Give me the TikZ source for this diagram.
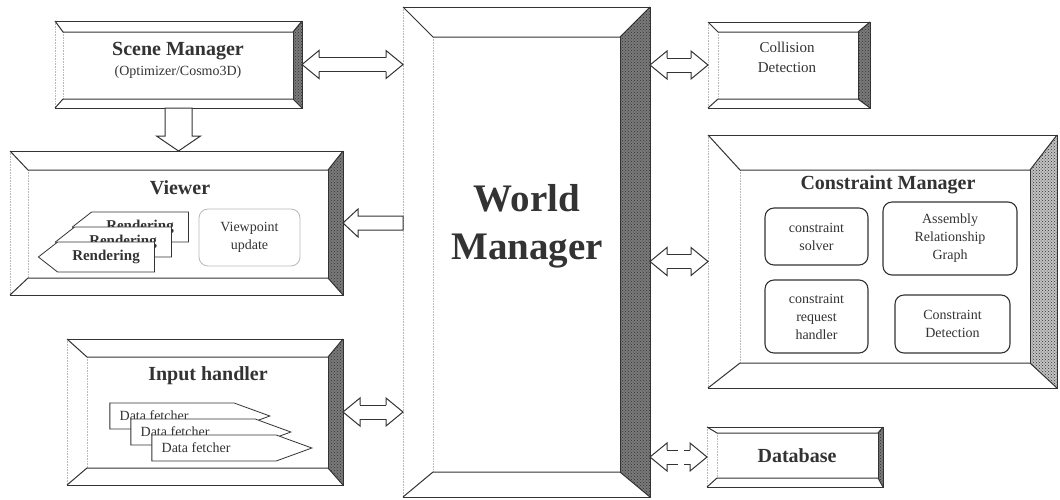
\documentclass[tikz,border=0pt]{standalone}
\usepackage{fontspec}
\setmainfont{Liberation Serif}
\usetikzlibrary{calc,shapes.symbols,patterns}

\definecolor{ink}{gray}{0.2}
\definecolor{rimdark}{gray}{0.48}
\definecolor{rimlight}{gray}{0.76}

\tikzset{
  frame/.style={inner sep=0pt, outer sep=0pt},
  rim/.style={draw=ink, line width=1pt},
  faint/.style={draw=gray!55, line width=0.6pt, densely dotted},
  title/.style={font=\fontsize{20}{24}\selectfont\bfseries, text=ink},
  small/.style={font=\fontsize{14}{18}\selectfont, text=ink, align=center},
  part/.style={draw=ink, line width=1.1pt, rounded corners=9pt, small, inner sep=2pt},
  render/.style={signal, signal to=west, signal pointer angle=76, draw=ink, fill=white,
    line width=0.8pt, minimum width=116pt, minimum height=30pt, inner sep=0pt,
    font=\fontsize{15}{18}\selectfont\bfseries, text=ink},
  fetcher/.style={signal, signal to=east, signal pointer angle=40, draw=ink, fill=white,
    line width=0.8pt, minimum width=160pt, minimum height=26pt, inner sep=0pt},
  hollow/.style={draw=ink, line width=1pt, line join=miter},
}

% bevelled frame inside an empty node: rim widths left, top, right, bottom
\newcommand\bevelbox[6][rimdark]{%
  \coordinate (#2-inw) at ($(#2.north west)+(#3,#4)$);
  \coordinate (#2-ise) at ($(#2.south east)+(-#5,-#6)$);
  \coordinate (#2-ine) at (#2-inw -| #2-ise);
  \coordinate (#2-isw) at (#2-inw |- #2-ise);
  \fill[white] (#2.north west) rectangle (#2.south east);
  \fill[#1] (#2.north east) -- (#2.south east) -- (#2-ise) -- (#2-ine) -- cycle;
  \fill[pattern=crosshatch dots, pattern color=black!80] (#2.north east) -- (#2.south east) -- (#2-ise) -- (#2-ine) -- cycle;
  \draw[faint] (#2.north west) -- (#2.south west) (#2-inw) -- (#2-isw);
  \draw[rim] (#2.south west) -- (#2.south east) -- (#2.north east) -- (#2.north west);
  \draw[rim] (#2.north west) -- (#2-inw) -- (#2-ine) -- (#2.north east);
  \draw[rim] (#2.south west) -- (#2-isw) -- (#2-ise) -- (#2.south east);
  \draw[rim] (#2-ine) -- (#2-ise);
}

% hollow block arrow with a head at both ends
\def\headlen{17pt}
\def\headhalf{14pt}
\def\shafthalf{7pt}
\newcommand\twoway[3][]{%
  \coordinate (ta) at (#2);
  \coordinate (tb) at (#3);
  \coordinate (ha) at ($(ta)!\headlen!(tb)$);
  \coordinate (hb) at ($(tb)!\headlen!(ta)$);
  \fill[white] (ta) -- ($(ha)!\headhalf!90:(ta)$) -- ($(hb)!\headhalf!-90:(tb)$) -- (tb)
    -- ($(hb)!\headhalf!90:(tb)$) -- ($(ha)!\headhalf!-90:(ta)$) -- cycle;
  \draw[hollow] ($(ha)!\shafthalf!90:(ta)$) -- ($(ha)!\headhalf!90:(ta)$) -- (ta)
    -- ($(ha)!\headhalf!-90:(ta)$) -- ($(ha)!\shafthalf!-90:(ta)$);
  \draw[hollow] ($(hb)!\shafthalf!90:(tb)$) -- ($(hb)!\headhalf!90:(tb)$) -- (tb)
    -- ($(hb)!\headhalf!-90:(tb)$) -- ($(hb)!\shafthalf!-90:(tb)$);
  \draw[hollow, #1] ($(ha)!\shafthalf!90:(ta)$) -- ($(hb)!\shafthalf!-90:(tb)$)
    ($(ha)!\shafthalf!-90:(ta)$) -- ($(hb)!\shafthalf!90:(tb)$);
}

% hollow block arrow: tail, tip, head length, head half width, shaft half width
\newcommand\oneway[5]{%
  \coordinate (ta) at (#1);
  \coordinate (tb) at (#2);
  \coordinate (hb) at ($(tb)!#3!(ta)$);
  \filldraw[hollow, fill=white] (tb) -- ($(hb)!#4!90:(tb)$) -- ($(hb)!#5!90:(tb)$)
    -- ($(ta)!#5!90:(tb)$) -- ($(ta)!#5!-90:(tb)$) -- ($(hb)!#5!-90:(tb)$)
    -- ($(hb)!#4!-90:(tb)$) -- cycle;
}

\begin{document}
\begin{tikzpicture}[x=1pt, y=-1pt]
\useasboundingbox (0,0) rectangle (1060,499);

% left column
\node[frame, minimum width=247pt, minimum height=87pt] (scene) at (178.5,64.5) {};
\bevelbox{scene}{8}{11}{9}{9}
\node[title] (scenetitle) at (178,51) {Scene Manager};
\node[small] (scenesub) at (178,72) {(Optimizer/Cosmo3D)};

\node[frame, minimum width=333pt, minimum height=144pt] (viewer) at (176.5,223) {};
\bevelbox{viewer}{18}{19}{15}{17}
\node[title] (viewertitle) at (180,188) {Viewer};
\foreach \k in {2,1,0}
  \node[render] (render\k) at (106+17*\k,257-15*\k) {Rendering};
\node[part, draw=gray!55, line width=0.8pt, minimum width=101pt, minimum height=57pt]
  (viewpoint) at (249.5,237.5) {Viewpoint\\update};

\node[frame, minimum width=276pt, minimum height=146pt] (input) at (205,412) {};
\bevelbox{input}{20}{18}{15}{17}
\node[title] (inputtitle) at (208,376) {Input handler};
\foreach \k in {2,1,0} {
  \node[fetcher] (fetch\k) at (214-21*\k,448-16*\k) {};
  \node[small, anchor=west, inner xsep=10pt] at (fetch\k.west) {Data fetcher};
}

% centre
\node[frame, minimum width=247pt, minimum height=490pt] (world) at (526.5,252) {};
\bevelbox{world}{30}{30}{30}{25}
\node[font=\fontsize{39}{48}\selectfont\bfseries, align=center, text=ink]
  (worldtitle) at (527,226) {World\\Manager};

% right column
\node[frame, minimum width=162pt, minimum height=86pt] (collision) at (789,65) {};
\bevelbox{collision}{10}{10}{12}{9}
\node[small, font=\fontsize{15}{20}\selectfont] (collisiontext) at (787,57) {Collision\\Detection};

\node[frame, minimum width=349pt, minimum height=253pt] (constraint) at (882.5,261.5) {};
\bevelbox[rimlight]{constraint}{32}{35}{27}{25}
\node[title] (constrainttitle) at (888,185) {Constraint Manager};
\node[part, minimum width=103pt, minimum height=57pt] (solver) at (816.5,236.5) {constraint\\solver};
\node[part, minimum width=134pt, minimum height=73pt] (graph) at (950,238.5) {Assembly\\Relationship\\Graph};
\node[part, minimum width=103pt, minimum height=73pt] (request) at (816.5,316.5) {constraint\\request\\handler};
\node[part, minimum width=115pt, minimum height=58pt] (detection) at (952.5,324) {Constraint\\Detection};

\node[frame, minimum width=176pt, minimum height=60pt] (database) at (795,457) {};
\bevelbox{database}{10}{6}{5}{9}
\node[title] (databasetitle) at (797,456) {Database};

% links to the world manager
\twoway{scene.east}{scene.east -| world.west}
\twoway{input.east}{input.east -| world.west}
\twoway{collision.west -| world.east}{collision.west}
\twoway{constraint.west -| world.east}{constraint.west}
\twoway[dash pattern=on 11pt off 6pt]{database.west -| world.east}{database.west}
\oneway{viewer.east -| world.west}{viewer.east}{15pt}{14pt}{7pt}
\oneway{scene.south}{scene.south |- viewer.north}{15pt}{22pt}{13.5pt}

\end{tikzpicture}
\end{document}
